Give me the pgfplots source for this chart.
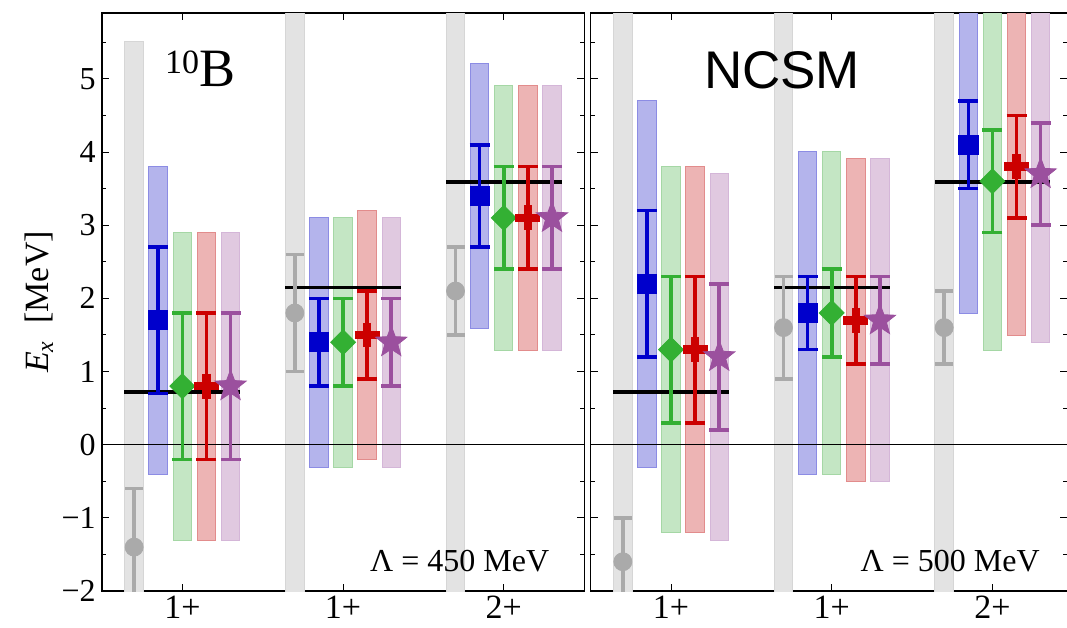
\documentclass[border=0pt]{standalone}
\usepackage{fontspec}
\setmainfont{Liberation Serif}
\newfontfamily\sansf{Liberation Sans}
\usepackage{pgfplots}
\pgfplotsset{compat=1.18}
\usepackage{pgfplotstable}

\definecolor{bandB}{RGB}{180,180,236}\definecolor{edgeB}{RGB}{140,140,228}
\definecolor{bandG}{RGB}{196,230,196}\definecolor{edgeG}{RGB}{165,215,165}
\definecolor{bandR}{RGB}{237,180,180}\definecolor{edgeR}{RGB}{226,140,140}
\definecolor{bandP}{RGB}{224,201,224}\definecolor{edgeP}{RGB}{212,182,216}
\definecolor{bandK}{RGB}{227,227,227}\definecolor{edgeK}{RGB}{214,214,214}
\definecolor{colB}{RGB}{0,0,204}
\definecolor{colG}{RGB}{51,176,51}
\definecolor{colR}{RGB}{204,0,0}
\definecolor{colP}{RGB}{155,80,158}
\definecolor{colK}{RGB}{170,170,170}

\pgfdeclareplotmark{fstar}{%
  \pgfpathmoveto{\pgfpointpolar{90}{\pgfplotmarksize}}%
  \pgfpathlineto{\pgfpointscale{0.42}{\pgfpointpolar{126}{\pgfplotmarksize}}}%
  \pgfpathlineto{\pgfpointpolar{162}{\pgfplotmarksize}}%
  \pgfpathlineto{\pgfpointscale{0.42}{\pgfpointpolar{198}{\pgfplotmarksize}}}%
  \pgfpathlineto{\pgfpointpolar{234}{\pgfplotmarksize}}%
  \pgfpathlineto{\pgfpointscale{0.42}{\pgfpointpolar{270}{\pgfplotmarksize}}}%
  \pgfpathlineto{\pgfpointpolar{306}{\pgfplotmarksize}}%
  \pgfpathlineto{\pgfpointscale{0.42}{\pgfpointpolar{342}{\pgfplotmarksize}}}%
  \pgfpathlineto{\pgfpointpolar{18}{\pgfplotmarksize}}%
  \pgfpathlineto{\pgfpointscale{0.42}{\pgfpointpolar{54}{\pgfplotmarksize}}}%
  \pgfpathclose
  \pgfusepathqfillstroke
}

% ---------- Lambda = 450 MeV ----------
\pgfplotstableread{
x p e lo hi
-0.3 -1.4 0.8 -2.5 5.5
0.7 1.8 0.8 -2.5 6.5
1.7 2.1 0.6 -2.5 6.5
}\LK
\pgfplotstableread{
x p e lo hi
-0.15 1.7 1.0 -0.4 3.8
0.85 1.4 0.6 -0.3 3.1
1.85 3.4 0.7 1.6 5.2
}\LB
\pgfplotstableread{
x p e lo hi
0.0 0.8 1.0 -1.3 2.9
1.0 1.4 0.6 -0.3 3.1
2.0 3.1 0.7 1.3 4.9
}\LG
\pgfplotstableread{
x p e lo hi
0.15 0.8 1.0 -1.3 2.9
1.15 1.5 0.6 -0.2 3.2
2.15 3.1 0.7 1.3 4.9
}\LR
\pgfplotstableread{
x p e lo hi
0.3 0.8 1.0 -1.3 2.9
1.3 1.4 0.6 -0.3 3.1
2.3 3.1 0.7 1.3 4.9
}\LP
\pgfplotstableread{
x v
0 0.72
1 2.15
2 3.59
}\LExp

% ---------- Lambda = 500 MeV ----------
\pgfplotstableread{
x p e lo hi
-0.3 -1.6 0.6 -2.5 6.5
0.7 1.6 0.7 -2.5 6.5
1.7 1.6 0.5 -2.5 6.5
}\RK
\pgfplotstableread{
x p e lo hi
-0.15 2.2 1.0 -0.3 4.7
0.85 1.8 0.5 -0.4 4.0
1.85 4.1 0.6 1.8 6.5
}\RB
\pgfplotstableread{
x p e lo hi
0.0 1.3 1.0 -1.2 3.8
1.0 1.8 0.6 -0.4 4.0
2.0 3.6 0.7 1.3 6.5
}\RG
\pgfplotstableread{
x p e lo hi
0.15 1.3 1.0 -1.2 3.8
1.15 1.7 0.6 -0.5 3.9
2.15 3.8 0.7 1.5 6.5
}\RR
\pgfplotstableread{
x p e lo hi
0.3 1.2 1.0 -1.3 3.7
1.3 1.7 0.6 -0.5 3.9
2.3 3.7 0.7 1.4 6.5
}\RP
\pgfplotstableread{
x v
0 0.72
1 2.15
2 3.59
}\RExp

\newcommand{\band}[3]{%
  \addplot[draw=none, error bars/.cd, y dir=both, y explicit, error mark=none,
    error bar style={draw=#3, line width=9.75pt, line cap=butt,
      shorten <=-0.5pt, shorten >=-0.5pt}]
    table[x=x, y expr={(\thisrow{lo}+\thisrow{hi})/2},
      y error expr={(\thisrow{hi}-\thisrow{lo})/2}] {#1};
  \addplot[draw=none, error bars/.cd, y dir=both, y explicit, error mark=none,
    error bar style={draw=#2, line width=8.75pt, line cap=butt}]
    table[x=x, y expr={(\thisrow{lo}+\thisrow{hi})/2},
      y error expr={(\thisrow{hi}-\thisrow{lo})/2}] {#1};
}
\newcommand{\pts}[6]{%
  \addplot[only marks, color=#2, mark=#3, mark size=#4, mark options={#5},
    error bars/.cd, y dir=both, y explicit,
    error bar style={line width=1.8pt, #2},
    error mark options={rotate=90, mark size=#6, line width=1.8pt, #2}]
    table[x=x, y=p, y error=e] {#1};
}
\newcommand{\expline}[1]{%
  \addplot[draw=none, error bars/.cd, x dir=both, x fixed=0.36, error mark=none,
    error bar style={black, line width=1.6pt}]
    table[x=x, y=v] {#1};
}
\newcommand{\zeroline}{%
  \addplot[black, line width=0.6pt] coordinates {(-0.5,0) (2.5,0)};
}

\pgfplotsset{panel/.style={
  scale only axis, height=289pt, ymin=-2, ymax=5.9, xmin=-0.5,
  xtick={0,1,2}, xticklabels={1+,1+,2+},
  ytick={-2,-1,0,1,2,3,4,5},
  minor ytick={-1.5,-0.5,0.5,1.5,2.5,3.5,4.5,5.5},
  tick align=inside, major tick length=3.5pt, minor tick length=2pt,
  every tick/.style={black, line width=0.5pt},
  axis line style={line width=0.6pt},
  xticklabel style={font=\fontsize{17}{17}\selectfont, inner sep=0pt, yshift=-2.5pt},
  yticklabel style={font=\fontsize{16}{16}\selectfont, inner sep=0pt, xshift=-3pt},
}}

\begin{document}
\begin{tikzpicture}
\useasboundingbox (-51pt,-18.25pt) rectangle (482.5pt,295.5pt);
\begin{axis}[panel, width=241.05pt, xmax=2.5, at={(0pt,0pt)}, anchor=south west,
  yticklabels={−2,−1,0,1,2,3,4,5},
  ylabel={\textit{E}\textsubscript{\textit{x}}\ \ [MeV]},
  ylabel style={font=\fontsize{17}{17}\selectfont, at={(axis description cs:-0.112,0.5)}, anchor=base}]
  \band{\LK}{bandK}{edgeK}
  \band{\LB}{bandB}{edgeB}
  \band{\LG}{bandG}{edgeG}
  \band{\LR}{bandR}{edgeR}
  \band{\LP}{bandP}{edgeP}
  \zeroline
  \expline{\LExp}
  \pts{\LK}{colK}{*}{4.5pt}{}{4.5pt}
  \pts{\LB}{colB}{square*}{4.8pt}{}{5pt}
  \pts{\LG}{colG}{square*}{4.4pt}{rotate=45}{5pt}
  \pts{\LR}{colR}{+}{6.2pt}{line width=4.3pt}{5pt}
  \pts{\LP}{colP}{fstar}{8.2pt}{}{5pt}
  \node[anchor=base west, inner sep=0pt] at (axis cs:-0.11,4.89)
    {\raisebox{6.5pt}{\fontsize{17}{17}\selectfont 10}\fontsize{27}{27}\selectfont B};
  \node[anchor=base, inner sep=0pt, font=\fontsize{16}{16}\selectfont] at (axis cs:1.726,-1.73) {Λ = 450 MeV};
\end{axis}
\begin{axis}[panel, width=238.3pt, xmax=2.466, at={(244.35pt,0pt)}, anchor=south west,
  yticklabels={,,,,,,,}]
  \band{\RK}{bandK}{edgeK}
  \band{\RB}{bandB}{edgeB}
  \band{\RG}{bandG}{edgeG}
  \band{\RR}{bandR}{edgeR}
  \band{\RP}{bandP}{edgeP}
  \zeroline
  \expline{\RExp}
  \pts{\RK}{colK}{*}{4.5pt}{}{4.5pt}
  \pts{\RB}{colB}{square*}{4.8pt}{}{5pt}
  \pts{\RG}{colG}{square*}{4.4pt}{rotate=45}{5pt}
  \pts{\RR}{colR}{+}{6.2pt}{line width=4.3pt}{5pt}
  \pts{\RP}{colP}{fstar}{8.2pt}{}{5pt}
  \node[anchor=base, inner sep=0pt, font=\sansf\fontsize{26.5}{26.5}\selectfont] at (axis cs:0.691,4.863) {NCSM};
  \node[anchor=base, inner sep=0pt, font=\fontsize{16}{16}\selectfont] at (axis cs:1.737,-1.73) {Λ = 500 MeV};
\end{axis}
\end{tikzpicture}
\end{document}
